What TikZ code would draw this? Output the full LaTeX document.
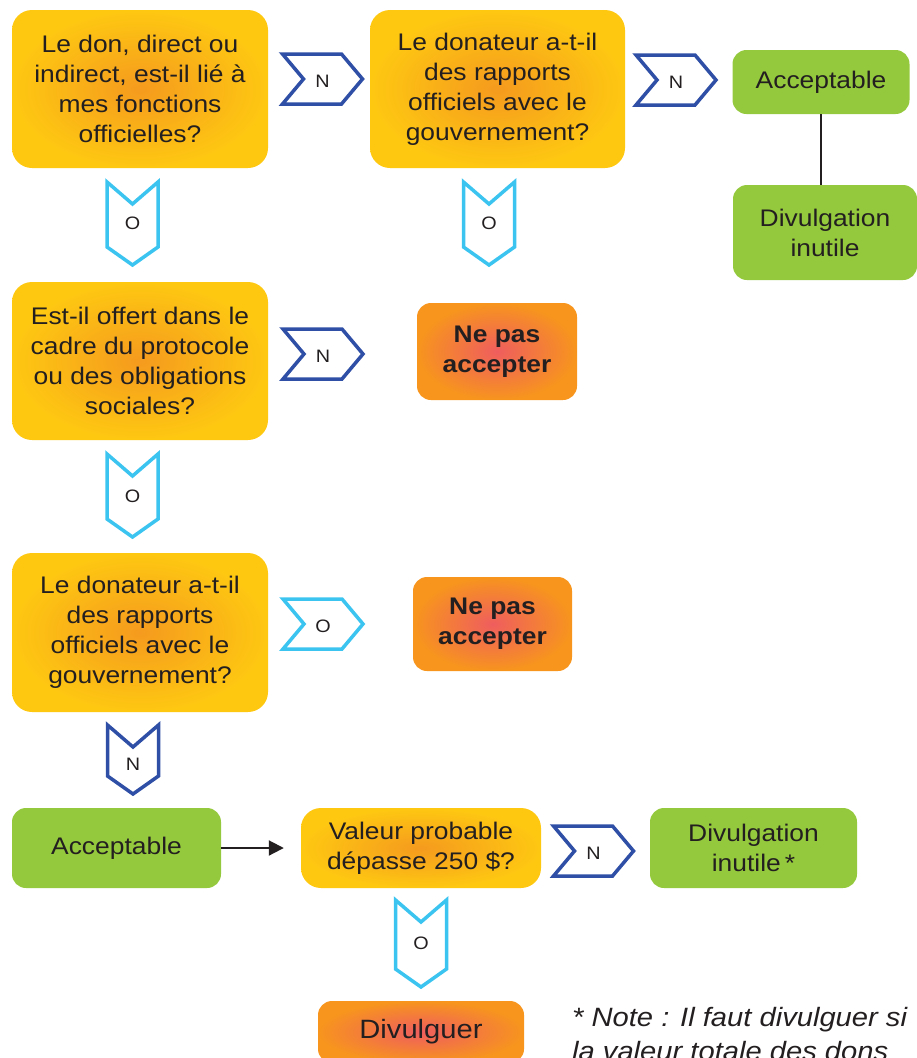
\documentclass[tikz,border=0pt]{standalone}
\usepackage{fontspec}
\setmainfont{Liberation Sans}[FakeStretch=1.1]
\usetikzlibrary{arrows.meta}
\definecolor{ytxt}{HTML}{231F20}
\definecolor{yel}{HTML}{FEC811}
\definecolor{yorg}{HTML}{F59A1E}
\definecolor{org}{HTML}{F7951D}
\definecolor{orgred}{HTML}{EF5D5E}
\definecolor{grn}{HTML}{95C93D}
\definecolor{dblue}{HTML}{2E4FA5}
\definecolor{lblue}{HTML}{3CC4F0}
\tikzset{
  every node/.style={text=ytxt},
  box/.style={align=center, inner sep=0pt, font=\fontsize{24}{30}\selectfont},
  qbox/.style={box, rounded corners=20pt, shading=radial, outer color=yel, inner color=yorg},
  nbox/.style={box, rounded corners=14pt, shading=radial, outer color=org, inner color=orgred},
  gbox/.style={box, rounded corners=14pt, fill=grn},
  bold/.style={font=\bfseries\fontsize{24}{30}\selectfont},
  chev/.style={line width=3.5pt, fill=white, line join=miter},
  bchev/.style={chev, draw=dblue},
  cchev/.style={chev, draw=lblue},
  clab/.style={font=\fontsize{18}{20}\selectfont, inner sep=0pt},
  pics/hchev/.style={code={\path[#1] (-40,-25) -- (19,-25) -- (40,0) -- (19,25) -- (-40,25) -- (-19,0) -- cycle;}},
  pics/vchev/.style 2 args={code={\path[#1] (-25.5,-#2) -- (0,{-#2+22}) -- (25.5,-#2) -- (25.5,{#2-18}) -- (0,#2) -- (-25.5,{#2-18}) -- cycle;}},
}
\begin{document}
\begin{tikzpicture}[x=1pt,y=-1pt]
\useasboundingbox (0,0) rectangle (917,1058);
\clip (0,0) rectangle (917,1058);
% main boxes
\node[qbox, minimum width=256pt, minimum height=158pt] (q1) at (140,89)
  {Le don, direct ou\\indirect, est-il lié à\\mes fonctions\\officielles?};
\node[qbox, minimum width=255pt, minimum height=158pt] (q2) at (497.5,89)
  {Le donateur a-t-il\\des rapports\\officiels avec le\\gouvernement?};
\node[gbox, minimum width=177pt, minimum height=64pt] (accT) at (821,82) {Acceptable};
\node[gbox, minimum width=184pt, minimum height=95pt] (divT) at (825,232.5) {Divulgation\\inutile};
\node[qbox, minimum width=256pt, minimum height=158pt] (q3) at (140,361)
  {Est-il offert dans le\\cadre du protocole\\ou des obligations\\sociales?};
\node[nbox, bold, minimum width=160pt, minimum height=97pt] (npa1) at (497,351.5)
  {Ne pas\\accepter};
\node[qbox, minimum width=256pt, minimum height=159pt] (q4) at (140,632.5)
  {Le donateur a-t-il\\des rapports\\officiels avec le\\gouvernement?};
\node[nbox, bold, minimum width=159pt, minimum height=94pt] (npa2) at (492.5,624)
  {Ne pas\\accepter};
\node[gbox, minimum width=209pt, minimum height=80pt] (accB) at (116.5,848) {Acceptable};
\node[qbox, minimum width=240pt, minimum height=80pt] (val) at (421,848)
  {Valeur probable\\dépasse 250 \$?};
\node[gbox, minimum width=207pt, minimum height=80pt] (divB) at (753.5,848) {Divulgation\\inutile\,*};
\node[nbox, minimum width=206pt, minimum height=62pt, font=\fontsize{26.5}{30}\selectfont] (divg) at (421,1032) {Divulguer};
\node[anchor=north west, align=left, inner sep=0pt, font=\itshape\fontsize{26.5}{34}\selectfont] (note) at (572,1007.5)
  {* Note : Il faut divulguer si\\la valeur totale des dons};
% connectors
\draw[line width=1.5pt, draw=ytxt] (accT.south) -- (accT.south |- divT.north);
\draw[line width=2pt, draw=ytxt, -{Triangle[length=15pt,width=15pt]}, shorten >=17pt] (accB.east) -- (val.west);
% horizontal chevrons
\pic at (322.5,79) {hchev=bchev};   \node[clab] (c1) at (322.5,81) {N};
\pic at (676,80) {hchev=bchev};     \node[clab] (c2) at (676,82) {N};
\pic at (323,354) {hchev=bchev};    \node[clab] (c3) at (323,356) {N};
\pic at (323,624) {hchev=cchev};    \node[clab] (c4) at (323,626) {O};
\pic at (593.5,851) {hchev=bchev};  \node[clab] (c5) at (593.5,853) {N};
% vertical chevrons
\pic at (132.5,223.5) {vchev={cchev}{41.5}}; \node[clab] (v1) at (132.5,223) {O};
\pic at (489,223.5) {vchev={cchev}{41.5}};   \node[clab] (v2) at (489,223) {O};
\pic at (132.5,495.5) {vchev={cchev}{41.5}}; \node[clab] (v3) at (132.5,496) {O};
\pic at (133,759.5) {vchev={bchev}{34.5}};   \node[clab] (v4) at (133,764) {N};
\pic at (421,943.5) {vchev={cchev}{43.5}};   \node[clab] (v5) at (421,943) {O};
\end{tikzpicture}
\end{document}
